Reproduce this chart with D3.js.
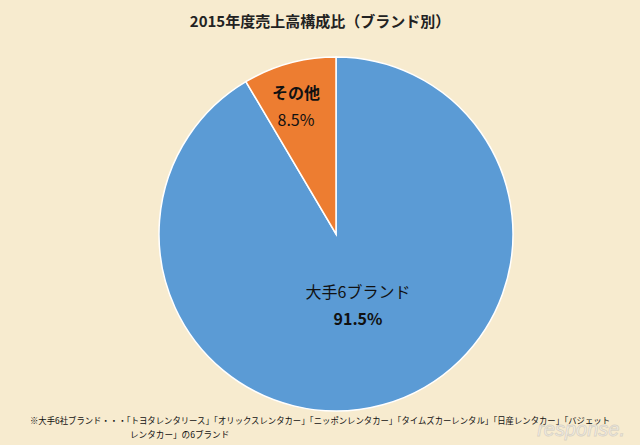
<!DOCTYPE html>
<html><head><meta charset="utf-8">
<script src="https://cdn.jsdelivr.net/npm/d3@7"></script>
<style>body{margin:0;background:#f7ebcf;}svg{display:block;}</style>
</head><body><svg width="640" height="445"></svg>
<script>
const categories = ["大手6ブランド", "その他"];
const values = [91.5, 8.5];
const labels = ["91.5%", "8.5%"];
const colors = ["#5b9bd5", "#ed7d31"];
const svg = d3.select("svg");
const font = "'Noto Sans CJK JP', sans-serif";
svg.append("rect").attr("width",640).attr("height",445).attr("fill","#f7ebcf");
svg.append("text").attr("x",320).attr("y",27).attr("text-anchor","middle")
  .attr("font-family",font).attr("font-weight","bold").attr("font-size",15).attr("fill","#222")
  .text("2015年度売上高構成比（ブランド別）");
const cx=336, cy=234, r=177;
const pie = d3.pie().sort((a,b)=>a-b).startAngle(0).endAngle(-2*Math.PI)(values);
const arc = d3.arc().innerRadius(0).outerRadius(r);
const g = svg.append("g").attr("transform",`translate(${cx},${cy})`);
g.selectAll("path").data(pie).join("path").attr("d",arc)
  .attr("fill",(d,i)=>colors[i]).attr("stroke","#fff").attr("stroke-width",1.5);
const lp = [[22,64],[-40,-135]];
pie.forEach((d,i)=>{
  const t = g.append("text").attr("text-anchor","middle").attr("font-family",font)
    .attr("font-size",16).attr("fill","#111").attr("font-weight",i==1?"bold":"normal");
  t.append("tspan").attr("x",lp[i][0]).attr("y",lp[i][1]).text(categories[i]);
  t.append("tspan").attr("x",lp[i][0]).attr("y",lp[i][1]+27).attr("font-weight",i==0?"bold":"normal").text(labels[i]);
});
const ft = svg.append("text").attr("font-family",font).attr("font-size",8.6).attr("fill","#111");
ft.append("tspan").attr("x",30).attr("y",424).attr("textLength",580).attr("lengthAdjust","spacingAndGlyphs").text("※大手6社ブランド・・・「トヨタレンタリース」「オリックスレンタカー」「ニッポンレンタカー」「タイムズカーレンタル」「日産レンタカー」「バジェット");
ft.append("tspan").attr("x",130).attr("y",438).text("レンタカー」の6ブランド");
svg.append("text").attr("x",625).attr("y",436).attr("text-anchor","end").attr("font-family","sans-serif")
  .attr("font-style","italic").attr("font-size",20).attr("fill","#fff").attr("fill-opacity",0.5)
  .attr("stroke","#aaa").attr("stroke-opacity",0.4).text("response.");
</script></body></html>
